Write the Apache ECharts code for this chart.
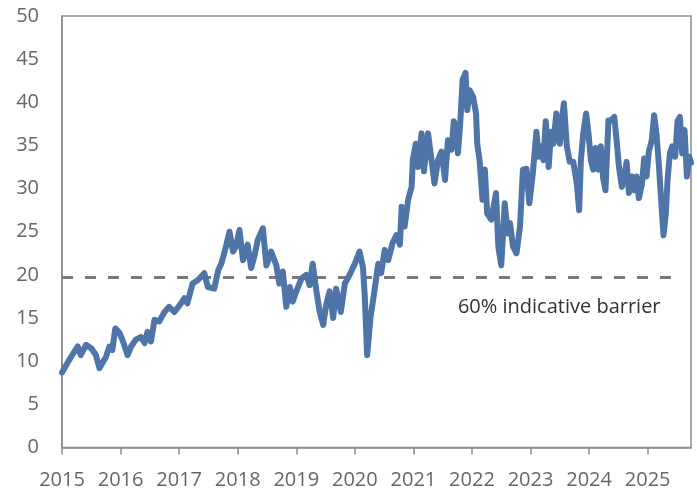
<!DOCTYPE html>
<html>
<head>
<meta charset="utf-8">
<script src="https://cdn.jsdelivr.net/npm/echarts@6/dist/echarts.min.js"></script>
<style>
html,body{margin:0;padding:0;background:#fff;}
#chart{width:697px;height:494px;}
</style>
</head>
<body>
<div id="chart"></div>
<script>
// Decimal-year dates and values
const dates = [
2015.00,2015.12,2015.21,2015.27,2015.32,2015.41,2015.50,2015.58,2015.64,2015.69,2015.75,2015.81,2015.86,2015.91,2015.98,
2016.03,2016.12,2016.18,2016.26,2016.35,2016.41,2016.46,2016.52,2016.58,2016.66,2016.75,2016.83,2016.92,
2017.01,2017.09,2017.14,2017.23,2017.32,2017.43,2017.49,2017.60,2017.67,2017.72,2017.80,2017.86,2017.92,2017.97,
2018.03,2018.09,2018.17,2018.23,2018.29,2018.34,2018.43,2018.49,2018.57,2018.66,2018.71,2018.77,2018.83,2018.89,2018.94,
2019.00,2019.09,2019.17,2019.23,2019.28,2019.34,2019.40,2019.46,2019.51,2019.57,2019.63,2019.68,2019.76,2019.83,2019.91,
2020.00,2020.08,2020.14,2020.17,2020.21,2020.27,2020.33,2020.40,2020.45,2020.51,2020.57,2020.65,2020.71,2020.77,2020.80,2020.85,2020.91,2020.97,2020.99,
2021.04,2021.08,2021.14,2021.18,2021.25,2021.31,2021.36,2021.42,2021.48,2021.54,2021.59,2021.65,2021.69,2021.74,2021.76,2021.80,2021.84,2021.89,2021.92,2021.96,
2022.02,2022.07,2022.09,2022.13,2022.18,2022.22,2022.26,2022.33,2022.41,2022.45,2022.50,2022.56,2022.61,2022.65,2022.70,2022.76,2022.82,2022.87,2022.93,2022.98,
2023.04,2023.10,2023.14,2023.19,2023.22,2023.26,2023.31,2023.35,2023.39,2023.44,2023.50,2023.54,2023.57,2023.62,2023.67,2023.73,2023.79,2023.83,2023.86,2023.90,2023.95,2023.99,
2024.03,2024.07,2024.11,2024.16,2024.20,2024.24,2024.28,2024.33,2024.37,2024.43,2024.47,2024.51,2024.56,2024.61,2024.64,2024.68,2024.73,2024.77,2024.81,2024.85,2024.90,2024.94,2024.98,
2025.02,2025.07,2025.11,2025.15,2025.19,2025.23,2025.27,2025.31,2025.34,2025.38,2025.42,2025.47,2025.51,2025.55,2025.59,2025.63,2025.67,2025.71,2025.74
];
const values = [
8.7,10.1,11.1,11.7,10.7,11.9,11.5,10.7,9.2,9.8,10.5,11.7,11.3,13.8,13.3,
12.5,10.7,11.7,12.5,12.8,12.1,13.4,12.3,14.8,14.6,15.7,16.3,15.7,
16.5,17.3,16.7,19.0,19.4,20.2,18.6,18.4,20.6,21.3,23.3,25.0,22.7,23.3,
25.2,21.7,23.5,20.8,22.3,24.0,25.4,21.1,22.7,21.1,19.0,20.4,16.3,18.6,16.9,
18.1,19.6,20.0,18.8,21.3,18.3,15.7,14.2,16.5,18.1,15.0,18.4,15.7,19.0,20.0,
21.3,22.7,20.8,17.5,10.7,15.2,17.9,21.3,20.2,22.9,21.7,23.8,24.6,23.5,27.9,25.6,28.7,30.2,33.3,
35.2,32.5,36.4,32.0,36.4,33.3,30.6,33.3,34.3,31.0,35.6,34.5,37.8,36.4,34.1,37.6,42.6,43.4,39.1,41.4,
40.6,38.7,35.2,33.3,28.7,32.2,27.1,26.4,29.5,23.3,21.1,28.3,24.8,26.0,23.3,22.5,25.6,32.2,32.3,28.3,
31.8,36.6,33.7,34.9,33.3,37.8,32.5,36.6,35.2,38.7,35.2,38.3,39.9,34.9,33.1,33.1,30.6,27.5,33.3,36.4,38.7,36.4,
33.3,32.2,34.7,32.2,34.9,31.2,29.8,37.9,37.9,38.3,35.6,32.5,30.2,31.8,33.1,29.5,31.4,29.8,31.4,28.9,30.4,33.5,31.4,
34.3,35.6,38.5,36.4,32.9,28.7,24.6,27.1,31.0,34.1,34.9,33.7,37.8,38.3,34.1,36.8,31.4,33.7,33.0
];
const yearTicks = [2015,2016,2017,2018,2019,2020,2021,2022,2023,2024,2025];
const barrierLevel = 19.7;
const barrierSpan = [2015.0, 2025.55];
const barrierLabel = '60% indicative barrier';
const barrierLabelAt = [2023.49, 16.2];

const lineData = dates.map((d, i) => [d, values[i]]);
const barrierData = barrierSpan.map(d => [d, barrierLevel]);

const chart = echarts.init(document.getElementById('chart'), null, {renderer: 'canvas'});
const FONT = '"Open Sans", "Noto Sans", sans-serif';
chart.setOption({
  animation: false,
  backgroundColor: '#ffffff',
  grid: {
    left: 62, right: 6, top: 16, bottom: 46.5,
    show: true, borderColor: '#8c8c8c', borderWidth: 1.5, backgroundColor: 'transparent'
  },
  xAxis: {
    type: 'value',
    min: 2015, max: 2025.74, interval: 1,
    axisLine: {show: true, lineStyle: {color: '#8c8c8c', width: 1.5}},
    axisTick: {show: true, length: 7, inside: false, customValues: yearTicks, lineStyle: {color: '#8c8c8c', width: 1.5}},
    axisLabel: {customValues: yearTicks, formatter: v => String(Math.round(v)), fontFamily: FONT, fontSize: 20, color: '#666666', margin: 23},
    splitLine: {show: false}
  },
  yAxis: {
    type: 'value',
    min: 0, max: 50, interval: 5,
    axisLine: {show: true, lineStyle: {color: '#8c8c8c', width: 1.5}},
    axisTick: {show: false},
    axisLabel: {fontFamily: FONT, fontSize: 20, color: '#666666', margin: 23},
    splitLine: {show: false}
  },
  series: [
    {
      type: 'line',
      data: barrierData,
      showSymbol: false,
      symbol: 'none',
      lineStyle: {color: '#7a7a7a', width: 3, type: [11, 12], cap: 'butt'},
      z: 2,
      markPoint: {
        symbol: 'circle', symbolSize: 0,
        data: [{coord: barrierLabelAt, value: barrierLabel}],
        label: {show: true, position: 'inside', formatter: barrierLabel, fontFamily: FONT, fontSize: 20, color: '#333333'}
      }
    },
    {
      type: 'line',
      data: lineData,
      showSymbol: false,
      symbol: 'none',
      lineStyle: {color: '#4e74a8', width: 6, join: 'round', cap: 'round'},
      z: 3
    }
  ]
});
</script>
</body>
</html>
